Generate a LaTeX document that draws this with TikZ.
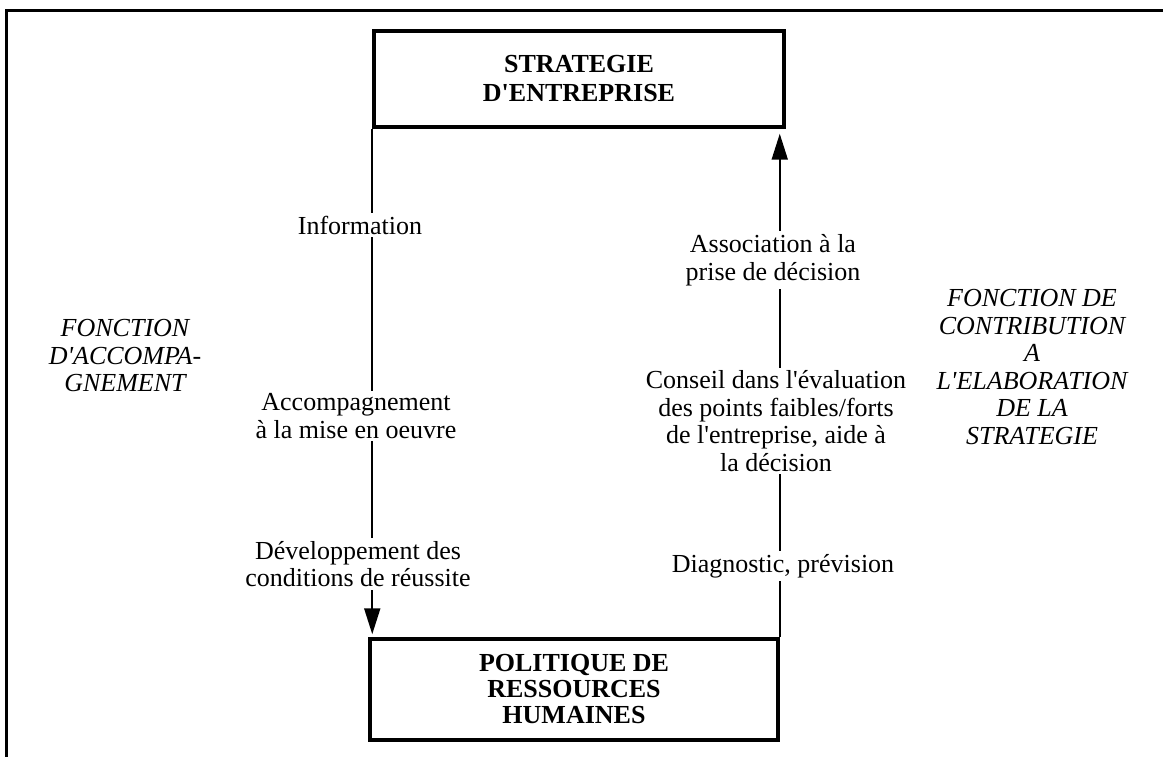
\documentclass[tikz,border=0pt]{standalone}
\usepackage{fontspec}
\setmainfont{Liberation Serif}[Ligatures=TeXOff]
\usetikzlibrary{arrows.meta}
\begin{document}
\begin{tikzpicture}[x=1pt,y=-1pt,
  mainbox/.style={draw, line width=3.5pt, inner sep=0pt, align=center,
    font=\fontsize{26}{26}\selectfont\bfseries},
  lbl/.style={fill=white, inner sep=3pt, align=center,
    font=\fontsize{26}{27.5}\selectfont},
  fn/.style={inner sep=0pt, align=center, font=\fontsize{26}{27.5}\selectfont\itshape},
  flow/.style={line width=2pt, -{Triangle[length=26pt,width=16pt]}},
  frame/.style={line width=3pt}]
\useasboundingbox (0,0) rectangle (1163,757);
% frame (top and left edges)
\coordinate (fTL) at (6,11);
\coordinate (fTR) at (1163,11);
\coordinate (fBL) at (6,757);
\draw[frame] (fTR) -- (fTL) -- (fBL);
% boxes
\node[mainbox, minimum width=410pt, minimum height=96pt, font=\fontsize{26}{29}\selectfont\bfseries] (strat) at (579,79)
  {STRATEGIE\\D'ENTREPRISE};
\node[mainbox, minimum width=408pt, minimum height=101pt] (pol) at (574,689.5)
  {POLITIQUE DE\\RESSOURCES\\HUMAINES};
% connectors
\draw[flow, shorten >=3pt] (strat.south west) -- (strat.south west |- pol.north);
\draw[flow, shorten >=5pt] (pol.north east) -- (pol.north east |- strat.south);
% labels on left connector
\node[lbl] (info) at (360,225) {Information};
\node[lbl] (accomp) at (356,416) {Accompagnement\\à la mise en oeuvre};
\node[lbl] (dev) at (358,564) {Développement des\\conditions de réussite};
% labels on right connector
\node[lbl] (assoc) at (773,260) {Association à la\\prise de décision};
\node[lbl] (conseil) at (776,421) {Conseil dans l'évaluation\\des points faibles/forts\\de l'entreprise, aide à\\la décision};
\node[lbl] (diag) at (783,566) {Diagnostic, prévision};
% side functions
\node[fn] (fl) at (125,356) {FONCTION\\D'ACCOMPA-\\GNEMENT};
\node[fn] (fr) at (1032,367) {FONCTION DE\\CONTRIBUTION\\A\\L'ELABORATION\\DE LA\\STRATEGIE};
\end{tikzpicture}
\end{document}
